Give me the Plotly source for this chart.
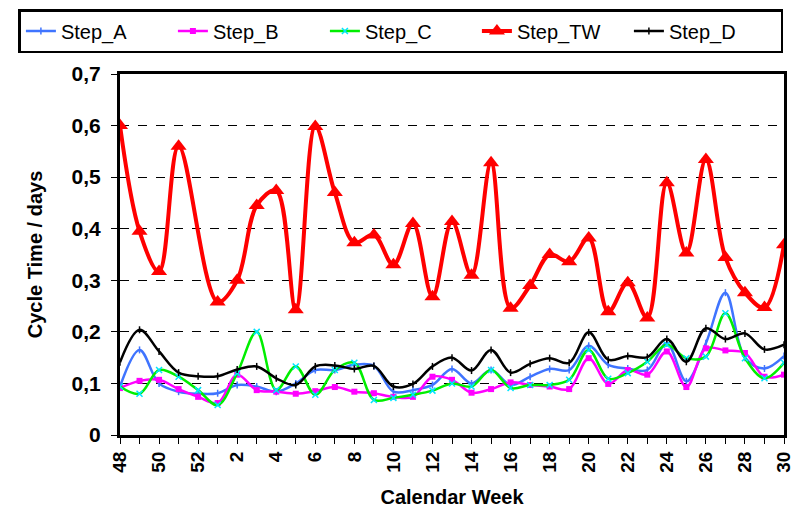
import plotly.graph_objects as go

weeks = ["48", "49", "50", "51", "52"] + [str(i) for i in range(1, 31)]

step_a = [0.094, 0.165, 0.100, 0.084, 0.080, 0.081, 0.097, 0.094, 0.084, 0.100,
          0.126, 0.126, 0.136, 0.134, 0.084, 0.087, 0.097, 0.128, 0.100, 0.126,
          0.097, 0.113, 0.128, 0.126, 0.173, 0.136, 0.129, 0.126, 0.178, 0.104,
          0.178, 0.276, 0.150, 0.129, 0.153]
step_b = [0.091, 0.105, 0.107, 0.089, 0.074, 0.062, 0.117, 0.087, 0.084, 0.080,
          0.085, 0.093, 0.084, 0.081, 0.074, 0.074, 0.113, 0.107, 0.082, 0.089,
          0.102, 0.097, 0.094, 0.089, 0.149, 0.099, 0.126, 0.117, 0.162, 0.093,
          0.168, 0.164, 0.159, 0.113, 0.117]
step_c = [0.094, 0.080, 0.126, 0.113, 0.087, 0.058, 0.120, 0.200, 0.087, 0.133,
          0.078, 0.126, 0.140, 0.068, 0.072, 0.078, 0.086, 0.100, 0.094, 0.126,
          0.091, 0.097, 0.097, 0.107, 0.165, 0.109, 0.120, 0.142, 0.175, 0.149,
          0.152, 0.236, 0.149, 0.110, 0.140]
step_tw = [0.600, 0.395, 0.317, 0.560, None, 0.258, 0.300, 0.445, 0.474, 0.243,
           0.598, 0.470, 0.373, 0.388, 0.330, 0.410, 0.268, 0.414, 0.310, 0.528,
           0.246, 0.290, 0.350, 0.336, 0.382, 0.239, 0.295, 0.227, 0.489, 0.353,
           0.534, 0.344, 0.276, 0.247, 0.369]
step_d = [0.141, 0.204, 0.162, 0.121, 0.114, 0.114, 0.127, 0.133, 0.110, 0.097,
          0.133, 0.135, 0.128, 0.134, 0.094, 0.099, 0.133, 0.150, 0.125, 0.165,
          0.121, 0.138, 0.149, 0.140, 0.199, 0.146, 0.153, 0.151, 0.186, 0.142,
          0.207, 0.186, 0.197, 0.166, 0.175]

y_ticks = [0, 0.1, 0.2, 0.3, 0.4, 0.5, 0.6, 0.7]
y_ticktext = ["0", "0,1", "0,2", "0,3", "0,4", "0,5", "0,6", "0,7"]

idx = list(range(len(weeks)))
x_ticktext = ["<b>%s</b>" % w if i % 2 == 0 else "" for i, w in enumerate(weeks)]

FONT = "Liberation Sans"

fig = go.Figure()

def add(name, ys, color, width, symbol, msize, mcolor=None, mline=0):
    fig.add_trace(go.Scatter(
        x=idx, y=ys, name=name, mode="lines+markers",
        line=dict(color=color, width=width, shape="spline", smoothing=1.0),
        marker=dict(symbol=symbol, size=msize, color=mcolor or color,
                    line=dict(color=mcolor or color, width=mline)),
        connectgaps=True,
    ))

add("Step_A", step_a, "#3f74ff", 2.5, "line-ns", 5, None, 1.5)
add("Step_B", step_b, "#ff00ff", 2.5, "square", 6)
add("Step_C", step_c, "#00ee00", 2.5, "x-thin", 6, "#00e5ff", 1.5)
add("Step_TW", step_tw, "#ff0000", 4, "triangle-up", 14)
add("Step_D", step_d, "#000000", 2.5, "line-ns", 5, None, 1.5)

fig.update_layout(
    width=795, height=508,
    margin=dict(l=120, r=11, t=74, b=73, autoexpand=False),
    paper_bgcolor="white", plot_bgcolor="white",
    font=dict(family=FONT, color="black", size=15),
    showlegend=True,
    legend=dict(
        orientation="h", x=-0.153, y=1.18, xanchor="left", yanchor="top",
        bordercolor="black", borderwidth=2.5,
        font=dict(family=FONT, size=20, color="black"),
        entrywidth=107, entrywidthmode="pixels",
        itemwidth=30,
    ),
    xaxis=dict(
        range=[0, 34], tickvals=idx, ticktext=x_ticktext, tickangle=-90,
        ticks="outside", ticklen=6, tickwidth=1.2, tickcolor="black",
        showline=True, linecolor="black", linewidth=3, mirror=True,
        showgrid=False, zeroline=False, automargin=False,
        tickfont=dict(family=FONT, size=19, color="black"),
        title=dict(text="<b>Calendar Week</b>", font=dict(family=FONT, size=20), standoff=19),
    ),
    yaxis=dict(
        range=[0, 0.7], tickvals=y_ticks, ticktext=["<b>%s</b>" % t for t in y_ticktext],
        ticks="outside", ticklen=6, tickwidth=1.2, tickcolor="black",
        showline=True, linecolor="black", linewidth=3, mirror=True,
        showgrid=True, gridcolor="black", gridwidth=1.2, griddash="dash",
        zeroline=False, ticklabelstandoff=6, automargin=False,
        tickfont=dict(family=FONT, size=21, color="black"),
        title=dict(text="<b>Cycle Time / days</b>", font=dict(family=FONT, size=20), standoff=24),
    ),
)

fig.write_html("out.html")
